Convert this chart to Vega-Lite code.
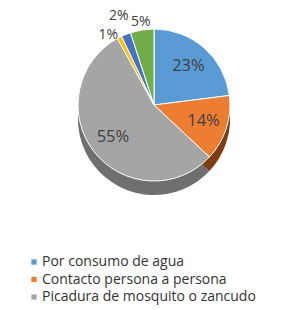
{
  "$schema": "https://vega.github.io/schema/vega-lite/v6.json",
  "width": 278,
  "height": 196,
  "padding": {"left": 15, "top": 7, "right": 0, "bottom": 107},
  "autosize": {"type": "none"},
  "background": "white",
  "config": {"view": {"stroke": null}},
  "data": {"values": [
    {"i": 1, "cat": "Por consumo de agua", "v": 23, "label": "23%"},
    {"i": 2, "cat": "Contacto persona a persona", "v": 14, "label": "14%"},
    {"i": 3, "cat": "Picadura de mosquito o zancudo", "v": 55, "label": "55%"},
    {"i": 4, "cat": "Otra vía 1", "v": 1, "label": "1%"},
    {"i": 5, "cat": "Otra vía 2", "v": 2, "label": "2%"},
    {"i": 6, "cat": "Otra vía 3", "v": 5, "label": "5%"}
  ]},
  "encoding": {
    "theta": {"field": "v", "type": "quantitative", "stack": true},
    "order": {"field": "i", "type": "quantitative"}
  },
  "layer": [
    {
      "mark": {"type": "arc", "radius": 76, "yOffset": 5},
      "encoding": {"fill": {"field": "i", "type": "nominal", "legend": null,
        "scale": {"domain": [1, 2, 3, 4, 5, 6],
                  "range": ["#41719c", "#7e3c12", "#6f6f6f", "#bf9000", "#2f528f", "#507e32"]}}}
    },
    {
      "mark": {"type": "arc", "radius": 76, "yOffset": 10},
      "encoding": {"fill": {"field": "i", "type": "nominal", "legend": null}}
    },
    {
      "mark": {"type": "arc", "radius": 76, "yOffset": 14},
      "encoding": {"fill": {"field": "i", "type": "nominal", "legend": null}}
    },
    {
      "mark": {"type": "arc", "radius": 76, "stroke": "white", "strokeWidth": 1},
      "encoding": {"color": {"field": "cat", "type": "nominal",
        "scale": {"domain": ["Por consumo de agua", "Contacto persona a persona", "Picadura de mosquito o zancudo", "Otra vía 1", "Otra vía 2", "Otra vía 3"],
                  "range": ["#5b9bd5", "#ed7d31", "#a5a5a5", "#ffc000", "#4472c4", "#70ad47"]},
        "legend": {"orient": "none", "legendX": 12, "legendY": 248, "title": null,
          "values": ["Por consumo de agua", "Contacto persona a persona", "Picadura de mosquito o zancudo"],
          "symbolType": "square", "symbolSize": 28, "symbolStrokeWidth": 0,
          "labelFont": "Open Sans", "labelFontSize": 14, "labelColor": "#333333", "labelLimit": 400,
          "rowPadding": 3.5, "padding": 0, "labelOffset": 1}}}
    },
    {
      "mark": {"type": "text", "radius": 52, "font": "Open Sans", "fontSize": 16.5, "fill": "#404040"},
      "encoding": {"text": {"condition": {"test": "datum.v >= 10", "field": "label", "type": "nominal"}, "value": ""}}
    },
    {
      "mark": {"type": "text", "radius": 84, "font": "Open Sans", "fontSize": 14, "fill": "#404040"},
      "encoding": {"text": {"condition": {"test": "datum.v == 5", "field": "label", "type": "nominal"}, "value": ""}}
    },
    {
      "mark": {"type": "text", "radius": 96, "font": "Open Sans", "fontSize": 14, "fill": "#404040"},
      "encoding": {"text": {"condition": {"test": "datum.v == 2", "field": "label", "type": "nominal"}, "value": ""}}
    },
    {
      "mark": {"type": "text", "radius": 79, "align": "right", "baseline": "middle", "font": "Open Sans", "fontSize": 14, "fill": "#404040"},
      "encoding": {"text": {"condition": {"test": "datum.v == 1", "field": "label", "type": "nominal"}, "value": ""}}
    }
  ]
}
